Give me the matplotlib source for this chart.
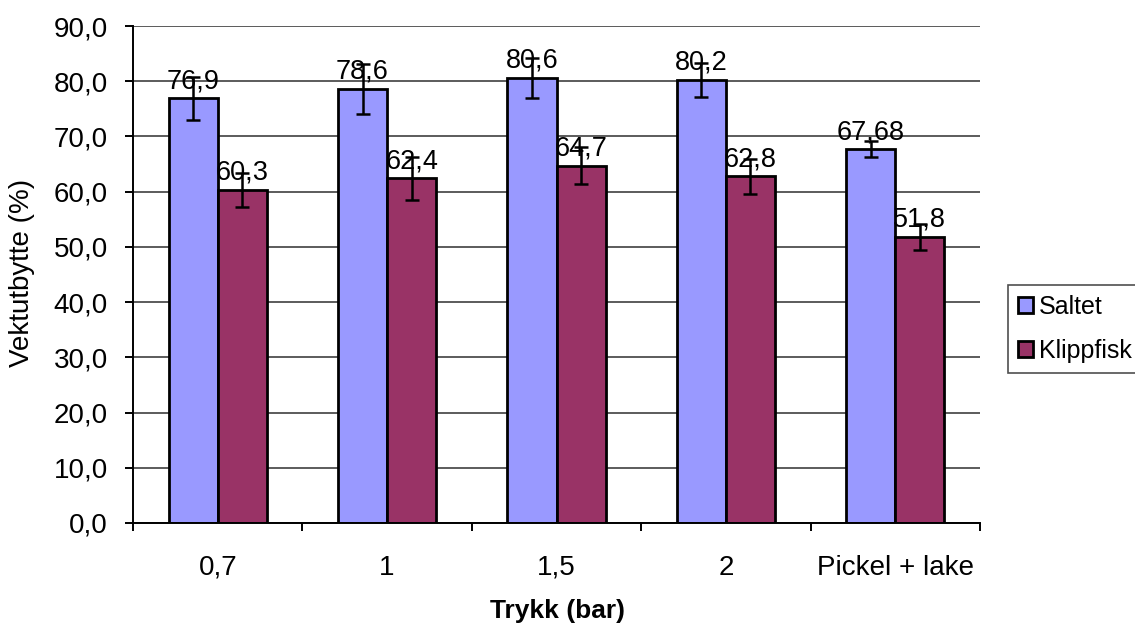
import matplotlib

matplotlib.use("Agg")
import matplotlib.pyplot as plt
import numpy as np

# data
categories = ["0,7", "1", "1,5", "2", "Pickel + lake"]
saltet = [76.9, 78.6, 80.6, 80.2, 67.68]
saltet_err = [3.9, 4.6, 3.6, 3.1, 1.45]
saltet_labels = ["76,9", "78,6", "80,6", "80,2", "67,68"]
klippfisk = [60.3, 62.4, 64.7, 62.8, 51.8]
klippfisk_err = [3.1, 3.9, 3.3, 3.2, 2.35]
klippfisk_labels = ["60,3", "62,4", "64,7", "62,8", "51,8"]
yticks = [0, 10, 20, 30, 40, 50, 60, 70, 80, 90]


def main() -> None:
    plt.rcParams["font.family"] = ["Liberation Sans", "DejaVu Sans"]
    W, H = 1135, 628
    fig = plt.figure(figsize=(W / 100, H / 100), dpi=100)
    ax = fig.add_axes([133 / W, 1 - 523 / H, (980 - 133) / W, (523 - 26) / H])

    x = np.arange(len(categories))
    bw = 0.29
    ekw = dict(ecolor="black", elinewidth=1.8, capsize=5, capthick=1.8)
    b1 = ax.bar(x - bw / 2, saltet, bw, yerr=saltet_err, color="#9999FF",
                edgecolor="black", linewidth=2.0, error_kw=ekw, label="Saltet", zorder=3)
    b2 = ax.bar(x + bw / 2, klippfisk, bw, yerr=klippfisk_err, color="#993366",
                edgecolor="black", linewidth=2.0, error_kw=ekw, label="Klippfisk", zorder=3)

    for xi, v, t in zip(x - bw / 2, saltet, saltet_labels):
        ax.annotate(t, (xi, v), xytext=(0, 3), textcoords="offset points",
                    ha="center", va="bottom", fontsize=19.5, zorder=5)
    for xi, v, t in zip(x + bw / 2, klippfisk, klippfisk_labels):
        ax.annotate(t, (xi, v), xytext=(0, 3), textcoords="offset points",
                    ha="center", va="bottom", fontsize=19.5, zorder=5)

    ax.set_xlim(-0.5, len(categories) - 0.5)
    ax.set_ylim(0, 90)
    ax.set_yticks(yticks)
    ax.set_yticklabels([f"{v:.1f}".replace(".", ",") for v in yticks])
    ax.yaxis.grid(True, color="#404040", linewidth=1.2, zorder=0)

    # category boundaries as major ticks, labels at centres as minor ticks
    ax.set_xticks(np.arange(len(categories) + 1) - 0.5)
    ax.set_xticklabels([])
    ax.set_xticks(x, minor=True)
    ax.set_xticklabels(categories, minor=True)
    ax.tick_params(axis="x", which="major", direction="out", length=6, width=1.4)
    ax.tick_params(axis="x", which="minor", length=0, pad=23, labelsize=20)
    ax.tick_params(axis="y", direction="out", length=6, width=1.4, pad=12, labelsize=20)

    for s in ("top", "right"):
        ax.spines[s].set_visible(False)
    for s in ("left", "bottom"):
        ax.spines[s].set_linewidth(1.4)
        ax.spines[s].set_zorder(4)

    fig.text(22 / W, 1 - 273 / H, "Vektutbytte (%)", rotation=90,
             ha="center", va="center", fontsize=20)
    fig.text(557 / W, 1 - 611 / H, "Trykk (bar)", ha="center", va="center",
             fontsize=19, fontweight="bold")

    leg = fig.legend(handles=[b1, b2], loc="center left",
                     bbox_to_anchor=(1008 / W, 1 - 329 / H), fontsize=18,
                     frameon=True, fancybox=False, edgecolor="#222222",
                     handlelength=0.6, handleheight=0.6, handletextpad=0.25,
                     labelspacing=0.8, borderpad=0.4, borderaxespad=0)
    leg.get_frame().set_linewidth(1.2)

    fig.savefig("out.png", dpi=100)
    plt.close(fig)


if __name__ == "__main__":
    main()
